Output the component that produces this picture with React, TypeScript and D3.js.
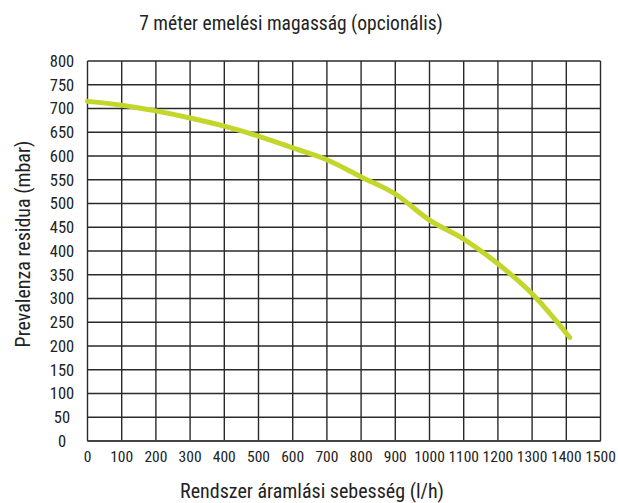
import React from "react";
import * as d3 from "d3";

const xTicks = [0, 100, 200, 300, 400, 500, 600, 700, 800, 900, 1000, 1100, 1200, 1300, 1400, 1500];
const yTicks = [0, 50, 100, 150, 200, 250, 300, 350, 400, 450, 500, 550, 600, 650, 700, 750, 800];
const flowValues = [0, 100, 200, 300, 400, 500, 600, 700, 800, 900, 1000, 1100, 1200, 1300, 1410];
const pressureValues = [715, 707, 695, 680, 663, 642, 617, 592, 556, 520, 465, 425, 373, 310, 218];

const title = "7 méter emelési magasság (opcionális)";
const xTitle = "Rendszer áramlási sebesség (l/h)";
const yTitle = "Prevalenza residua (mbar)";

export default function App() {
  const W = 618, H = 503;
  const left = 87.5, right = 600.5, top = 61, bottom = 441;
  const x = d3.scaleLinear().domain([0, 1500]).range([left, right]);
  const y = d3.scaleLinear().domain([0, 800]).range([bottom, top]);
  const line = d3.line<number>()
    .x((_, i) => x(flowValues[i]))
    .y((d) => y(d))
    .curve(d3.curveMonotoneX);
  const font = "'Roboto Condensed', 'Liberation Sans Narrow', 'Arial Narrow', sans-serif";
  return (
    <svg width={W} height={H} style={{ position: "absolute", left: 0, top: 0, background: "#fff" }} fontFamily={font}>
      <rect x={0} y={0} width={W} height={H} fill="#fff" />
      {xTicks.map((t) => (
        <line key={"gx" + t} x1={x(t)} x2={x(t)} y1={top} y2={bottom} stroke="#2a2a2a" strokeWidth={1.4} />
      ))}
      {yTicks.map((t) => (
        <line key={"gy" + t} x1={left} x2={right} y1={y(t)} y2={y(t)} stroke="#2a2a2a" strokeWidth={1.4} />
      ))}
      <line x1={left} x2={right} y1={bottom} y2={bottom} stroke="#444" strokeWidth={2} />
      {yTicks.map((t) => (
        <text key={"ty" + t} x={62} y={y(t)} dy="0.36em" textAnchor="middle" fontSize={16.5} fill="#222">{t}</text>
      ))}
      {xTicks.map((t) => (
        <text key={"tx" + t} x={x(t)} y={462} textAnchor="middle" fontSize={15.5} fill="#222">{t}</text>
      ))}
      <path d={line(pressureValues) || ""} fill="none" stroke="#c3d62c" strokeWidth={5} strokeLinecap="round" />
      <text x={291} y={30} textAnchor="middle" fontSize={19.5} fill="#222">{title}</text>
      <text x={312} y={498} textAnchor="middle" fontSize={20} fill="#222">{xTitle}</text>
      <text transform={`translate(29.5,244) rotate(-90)`} textAnchor="middle" fontSize={20} fill="#222">{yTitle}</text>
    </svg>
  );
}
